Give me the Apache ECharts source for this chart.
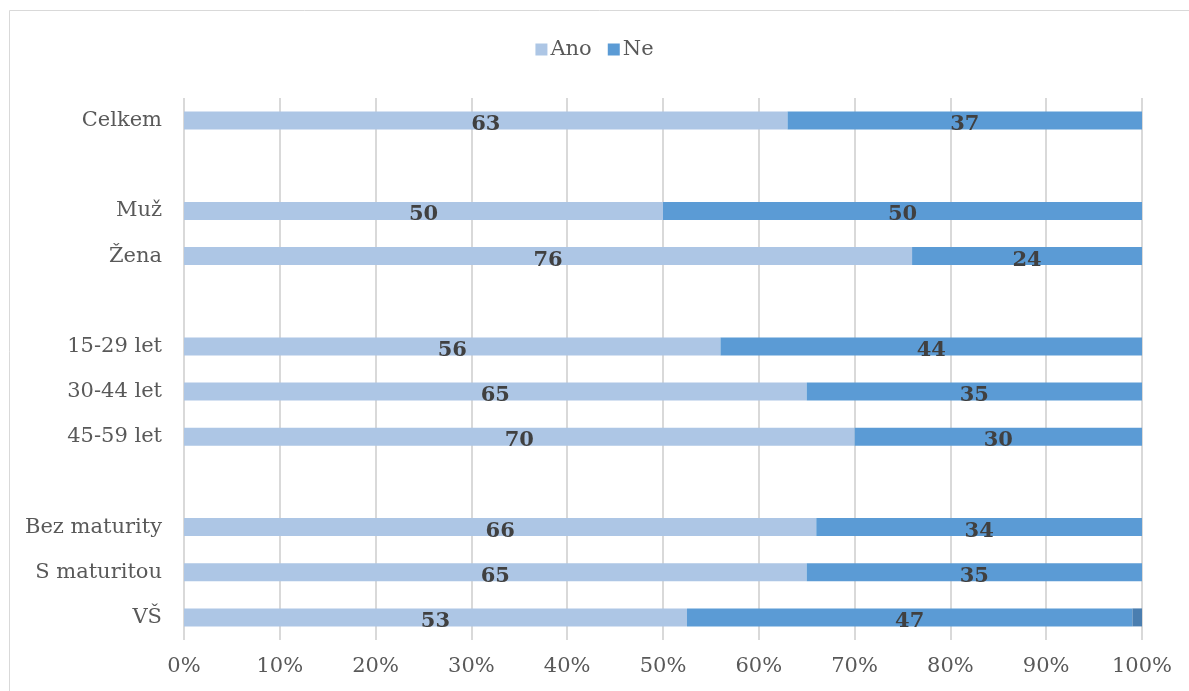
<!DOCTYPE html>
<html>
<head>
<meta charset="utf-8">
<script src="https://cdn.jsdelivr.net/npm/echarts@6/dist/echarts.min.js"></script>
<style>
  html, body { margin: 0; padding: 0; background: #fff; }
  #chart { width: 1189px; height: 691px; }
</style>
</head>
<body>
<div id="chart"></div>
<script>
// Row labels, top to bottom (empty strings are spacer rows between groups)
const categories = ['Celkem', '', 'Muž', 'Žena', '', '15-29 let', '30-44 let', '45-59 let', '', 'Bez maturity', 'S maturitou', 'VŠ'];
// Shares in percent per row
const ano = [63, null, 50, 76, null, 56, 65, 70, null, 66, 65, 52.5];
const ne  = [37, null, 50, 24, null, 44, 35, 30, null, 34, 35, 46.5];
const other = [null, null, null, null, null, null, null, null, null, null, null, 1];
const xTicks = [0, 10, 20, 30, 40, 50, 60, 70, 80, 90, 100];

const serif = 'DejaVu Serif';
const labelStyle = {
  show: true,
  position: 'inside',
  offset: [0, 4],
  color: '#404040',
  fontFamily: serif,
  fontWeight: 'bold',
  fontSize: 21,
  formatter: p => (p.value == null ? '' : String(Math.round(p.value)))
};

const chart = echarts.init(document.getElementById('chart'));
chart.setOption({
  animation: false,
  graphic: [{
    type: 'rect',
    shape: { x: 9.5, y: 10.5, width: 1200, height: 700 },
    style: { fill: 'none', stroke: '#d9d9d9', lineWidth: 1 },
    silent: true
  }],
  legend: {
    top: 34,
    left: 'center',
    data: ['Ano', 'Ne'],
    itemWidth: 12,
    itemHeight: 12,
    itemGap: 16,
    icon: 'rect',
    textStyle: { fontFamily: serif, fontSize: 21, color: '#595959', padding: [0, 0, 0, -2] }
  },
  grid: { left: 184, right: 47, top: 98, bottom: 51, containLabel: false },
  xAxis: {
    type: 'value',
    min: 0,
    max: 100,
    interval: 10,
    axisLine: { show: false },
    axisTick: { show: false },
    splitLine: { show: true, lineStyle: { color: '#d9d9d9', width: 2 } },
    axisLabel: {
      margin: 16,
      fontFamily: serif,
      fontSize: 21,
      color: '#595959',
      formatter: v => (xTicks.includes(v) ? v + '%' : '')
    }
  },
  yAxis: {
    type: 'category',
    inverse: true,
    data: categories,
    axisLine: { show: false },
    axisTick: { show: false },
    axisLabel: { margin: 22, fontFamily: serif, fontSize: 21, color: '#595959' }
  },
  series: [
    {
      name: 'Ano', type: 'bar', stack: 'total', data: ano, barWidth: 18,
      itemStyle: { color: '#adc6e5' }, label: labelStyle
    },
    {
      name: 'Ne', type: 'bar', stack: 'total', data: ne, barWidth: 18,
      itemStyle: { color: '#5b9bd5' }, label: labelStyle
    },
    {
      name: 'Neví', type: 'bar', stack: 'total', data: other, barWidth: 18,
      itemStyle: { color: '#4a7eb0' }, label: { show: false }
    }
  ]
});
</script>
</body>
</html>
